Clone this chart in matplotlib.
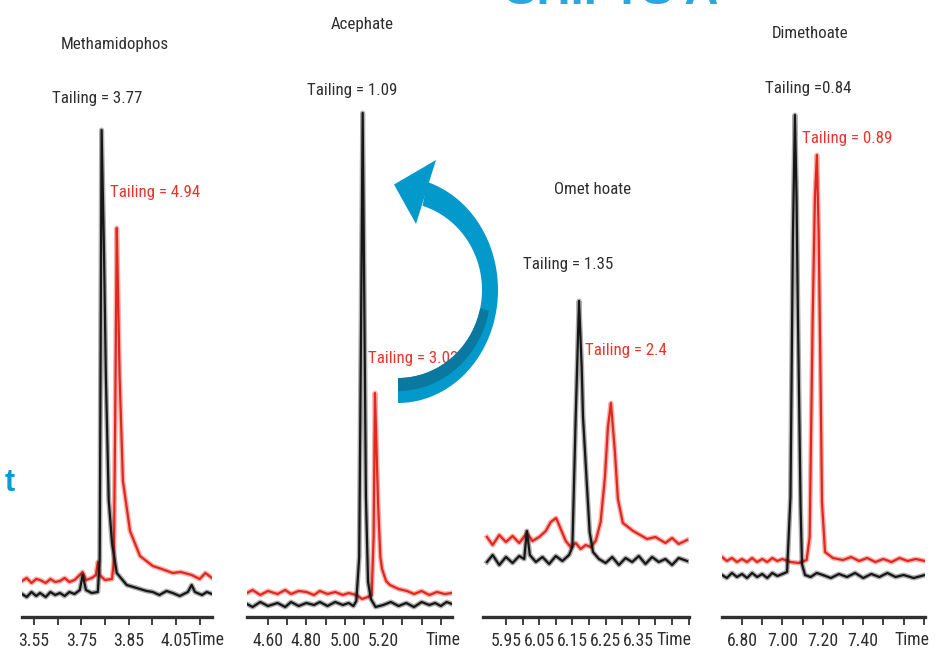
import matplotlib
matplotlib.use('Agg')
import matplotlib.pyplot as plt
import matplotlib.font_manager as fm
from matplotlib.patches import Polygon
import numpy as np

# Узкий шрифт, если есть; иначе обычный, но мельче
_names = {f.name for f in fm.fontManager.ttflist}
_dejavu_cond = any(f.name == 'DejaVu Sans' and 'condensed' in str(f.stretch)
                   for f in fm.fontManager.ttflist)
if 'Liberation Sans Narrow' in _names:
    FONT, STRETCH, SCALE = 'Liberation Sans Narrow', 'normal', 1.0
elif 'Roboto Condensed' in _names:
    FONT, STRETCH, SCALE = 'Roboto Condensed', 'normal', 0.95
elif _dejavu_cond:
    FONT, STRETCH, SCALE = 'DejaVu Sans', 'condensed', 0.8
else:
    FONT, STRETCH, SCALE = 'Liberation Sans', 'normal', 0.82
plt.rcParams['font.family'] = [FONT, 'DejaVu Sans']
plt.rcParams['font.stretch'] = STRETCH

BLACK = '#161616'
RED = '#e4271d'
TEXT_BLACK = '#2e2e2e'
TEXT_RED = '#e8352c'
BLUE = '#0399cb'
BLUE_DARK = '#0a789f'

# Methamidophos
t1_black = [3.625, 3.635, 3.645, 3.655, 3.663, 3.675, 3.685, 3.695, 3.705, 3.715, 3.725, 3.736,
            3.747, 3.753, 3.760, 3.772, 3.785, 3.789, 3.793, 3.798, 3.802, 3.808, 3.815, 3.825,
            3.846, 3.860, 3.874, 3.888, 3.901, 3.915, 3.930, 3.943, 3.958, 3.975, 3.983, 3.990,
            4.005, 4.015, 4.026]
i1_black = [23, 20, 25, 21, 24, 20, 25, 22, 24, 21, 25, 23,
            27, 42, 27, 24, 25, 57, 487, 367, 241, 117, 74, 44,
            32, 30, 28, 26, 25, 22, 26, 24, 21, 25, 32, 25,
            22, 25, 23]
t1_red = [3.625, 3.635, 3.645, 3.655, 3.663, 3.675, 3.685, 3.695, 3.705, 3.715, 3.725, 3.736,
          3.753, 3.760, 3.772, 3.781, 3.785, 3.789, 3.800, 3.815, 3.819, 3.822, 3.825, 3.828,
          3.831, 3.838, 3.853, 3.874, 3.901, 3.920, 3.943, 3.960, 3.983, 4.000, 4.012, 4.026]
i1_red = [36, 39, 34, 38, 37, 34, 38, 35, 36, 39, 35, 37,
          45, 37, 39, 42, 55, 42, 37, 38, 57, 217, 389, 317,
          241, 136, 86, 61, 51, 48, 44, 45, 42, 38, 44, 39]

# Acephate
t2_black = [4.491, 4.52, 4.56, 4.60, 4.65, 4.69, 4.72, 4.76, 4.80, 4.84, 4.87, 4.91, 4.95, 4.99,
            5.02, 5.045, 5.06, 5.075, 5.085, 5.093, 5.100, 5.110, 5.121, 5.136, 5.16, 5.20,
            5.24, 5.28, 5.32, 5.36, 5.40, 5.44, 5.47, 5.50, 5.53, 5.558]
i2_black = [13, 10, 15, 11, 14, 10, 15, 11, 14, 12, 15, 11, 15, 12,
            14, 11, 16, 60, 300, 504, 350, 120, 35, 18, 10, 12,
            15, 11, 14, 10, 15, 12, 14, 11, 15, 13]
t2_red = [4.491, 4.52, 4.56, 4.60, 4.65, 4.69, 4.72, 4.76, 4.80, 4.84, 4.87, 4.91, 4.95, 4.99,
          5.02, 5.06, 5.09, 5.12, 5.140, 5.150, 5.157, 5.165, 5.173, 5.185, 5.194, 5.215, 5.235,
          5.28, 5.324, 5.36, 5.40, 5.44, 5.48, 5.52, 5.558]
i2_red = [24, 27, 22, 26, 23, 27, 23, 26, 25, 22, 26, 23, 25, 22,
          24, 22, 18, 20, 22, 80, 224, 170, 115, 60, 48, 36, 32,
          28, 26, 23, 26, 22, 25, 23, 24]

# Omethoate
t3_black = [5.893, 5.91, 5.93, 5.95, 5.97, 5.99, 6.005, 6.013, 6.022, 6.04, 6.06, 6.08, 6.10, 6.12,
            6.14, 6.150, 6.160, 6.170, 6.178, 6.182, 6.193, 6.202, 6.212, 6.23, 6.25, 6.27, 6.29,
            6.31, 6.33, 6.35, 6.37, 6.39, 6.41, 6.43, 6.45, 6.47, 6.495]
i3_black = [55, 62, 52, 60, 54, 61, 58, 86, 62, 55, 60, 53, 61, 56,
            62, 70, 200, 316, 250, 200, 136, 85, 65, 58, 54, 60, 52,
            59, 55, 61, 53, 60, 55, 58, 52, 59, 56]
t3_red = [5.893, 5.91, 5.93, 5.95, 5.97, 5.99, 6.013, 6.03, 6.05, 6.07, 6.085, 6.101, 6.115, 6.13,
          6.145, 6.16, 6.175, 6.19, 6.205, 6.22, 6.235, 6.248, 6.257, 6.266, 6.278, 6.287, 6.302,
          6.333, 6.375, 6.40, 6.43, 6.45, 6.47, 6.495]
i3_red = [80, 72, 82, 75, 81, 74, 84, 76, 80, 86, 95, 99, 88, 76,
          70, 74, 68, 72, 70, 76, 95, 140, 190, 214, 165, 118, 94,
          86, 78, 80, 74, 79, 73, 77]

# Dimethoate
t4_black = [6.701, 6.725, 6.75, 6.775, 6.80, 6.825, 6.85, 6.875, 6.90, 6.925, 6.95, 6.975, 7.00,
            7.023, 7.040, 7.052, 7.062, 7.070, 7.077, 7.090, 7.097, 7.112, 7.14, 7.17, 7.20, 7.24,
            7.28, 7.32, 7.36, 7.40, 7.44, 7.48, 7.52, 7.56, 7.60, 7.65, 7.706]
i4_black = [42, 39, 44, 40, 43, 39, 44, 40, 43, 39, 44, 41, 43,
            45, 120, 380, 502, 420, 300, 110, 53, 42, 40, 44, 42, 39,
            43, 40, 44, 39, 43, 40, 44, 40, 42, 39, 42]
t4_red = [6.701, 6.725, 6.75, 6.775, 6.80, 6.825, 6.85, 6.875, 6.90, 6.925, 6.95, 6.975, 7.00,
          7.04, 7.08, 7.12, 7.135, 7.150, 7.161, 7.171, 7.180, 7.190, 7.196, 7.211, 7.25, 7.30,
          7.34, 7.38, 7.42, 7.46, 7.50, 7.54, 7.58, 7.62, 7.66, 7.706]
i4_red = [60, 56, 59, 55, 58, 55, 59, 55, 58, 55, 59, 56, 58,
          55, 54, 57, 80, 300, 420, 462, 380, 220, 115, 65, 59, 57,
          60, 56, 59, 55, 58, 55, 59, 56, 58, 56]

# Ticks and their printed labels
ticks_1 = [3.65, 3.70, 3.75, 3.80, 3.85, 3.90, 3.95, 4.00]
labels_1 = ['3.55', '', '3.75', '', '3.85', '', '4.05', '']
ticks_2 = [4.6, 4.7, 4.8, 4.9, 5.0, 5.1, 5.2, 5.3, 5.4, 5.5]
labels_2 = ['4.60', '', '4.80', '', '5.00', '', '5.20', '', '', '']
ticks_3 = [5.95, 6.00, 6.05, 6.10, 6.15, 6.20, 6.25, 6.30, 6.35, 6.40, 6.45, 6.50]
labels_3 = ['5.95', '', '6.05', '', '6.15', '', '6.25', '', '6.35', '', '', '']
ticks_4 = [6.8, 6.9, 7.0, 7.1, 7.2, 7.3, 7.4, 7.5, 7.6, 7.7]
labels_4 = ['6.80', '', '7.00', '', '7.20', '', '7.40', '', '', '']

titles = ['Methamidophos', 'Acephate', 'Omet hoate', 'Dimethoate']
tail_black = ['Tailing = 3.77', 'Tailing = 1.09', 'Tailing = 1.35', 'Tailing =0.84']
tail_red = ['Tailing = 4.94', 'Tailing = 3.02', 'Tailing = 2.4', 'Tailing = 0.89']

W, H = 936, 655
AXIS_Y = 617

panels = [
    dict(box=(22, 212), xlim=(3.625, 4.026), t_b=t1_black, i_b=i1_black, t_r=t1_red, i_r=i1_red,
         ticks=ticks_1, labels=labels_1, title_xy=(3.821, 573), black_xy=(3.783, 519),
         red_xy=(3.810, 425), time_x=4.015),
    dict(box=(247, 452), xlim=(4.491, 5.558), t_b=t2_black, i_b=i2_black, t_r=t2_red, i_r=i2_red,
         ticks=ticks_2, labels=labels_2, title_xy=(5.089, 592), black_xy=(5.0375, 527),
         red_xy=(5.121, 259), time_x=5.511),
    dict(box=(483, 689), xlim=(5.881, 6.501), t_b=t3_black, i_b=i3_black, t_r=t3_red, i_r=i3_red,
         ticks=ticks_3, labels=labels_3, title_xy=(6.212, 427), black_xy=(6.137, 352),
         red_xy=(6.188, 266), time_x=6.455),
    dict(box=(722, 925), xlim=(6.701, 7.706), t_b=t4_black, i_b=i4_black, t_r=t4_red, i_r=i4_red,
         ticks=ticks_4, labels=labels_4, title_xy=(7.137, 584), black_xy=(7.127, 529),
         red_xy=(7.097, 479), time_x=7.642),
]

fig = plt.figure(figsize=(W / 100, H / 100), dpi=100)

for k, p in enumerate(panels):
    x0, x1 = p['box']
    ax = fig.add_axes([x0 / W, (H - AXIS_Y) / H, (x1 - x0) / W, AXIS_Y / H])
    # мягкий ореол имитирует шумную полосу базовой линии
    ax.plot(p['t_r'], p['i_r'], color=RED, lw=3.6, alpha=0.35, solid_joinstyle='round')
    ax.plot(p['t_r'], p['i_r'], color=RED, lw=1.6, solid_joinstyle='round')
    ax.plot(p['t_b'], p['i_b'], color=BLACK, lw=3.6, alpha=0.35, solid_joinstyle='round')
    ax.plot(p['t_b'], p['i_b'], color=BLACK, lw=1.6, solid_joinstyle='round')
    ax.set_xlim(*p['xlim'])
    ax.set_ylim(0, AXIS_Y)
    for s in ['left', 'right', 'top']:
        ax.spines[s].set_visible(False)
    ax.spines['bottom'].set_linewidth(2.4)
    ax.spines['bottom'].set_color('#303030')
    ax.set_yticks([])
    ax.set_xticks(p['ticks'])
    ax.set_xticklabels(p['labels'])
    ax.tick_params(axis='x', direction='out', length=6, width=1.3, color='#303030',
                   pad=5, labelsize=13.5 * SCALE, labelcolor=TEXT_BLACK)
    ax.patch.set_alpha(0)

    fs = 12.8 * SCALE
    ax.text(*p['title_xy'], titles[k], ha='center', va='center', fontsize=fs, color=TEXT_BLACK)
    ax.text(*p['black_xy'], tail_black[k], ha='center', va='center', fontsize=fs, color=TEXT_BLACK)
    ax.text(*p['red_xy'], tail_red[k], ha='left', va='center', fontsize=fs, color=TEXT_RED)
    ax.text(p['time_x'], -23 / AXIS_Y, 'Time', transform=ax.get_xaxis_transform(),
            ha='center', va='center', fontsize=13.5 * SCALE, color=TEXT_BLACK)

# Слой в пикселях для украшений слайда
ov = fig.add_axes([0, 0, 1, 1], zorder=10)
ov.set_xlim(0, W)
ov.set_ylim(H, 0)
ov.axis('off')
ov.patch.set_alpha(0)

# Изогнутая стрелка
cx, cy = 398, 290
th = np.radians(np.linspace(-90, 73, 80))
outer = np.column_stack([cx + 100 * np.cos(th), cy - 113 * np.sin(th)])
inner = np.column_stack([cx + 84 * np.cos(th), cy - 88 * np.sin(th)])
ov.add_patch(Polygon(np.vstack([outer, inner[::-1]]), closed=True, color=BLUE, lw=0))
th_d = np.radians(np.linspace(-90, -12, 40))
mid = np.column_stack([cx + 93 * np.cos(th_d), cy - 101 * np.sin(th_d)])
inn = np.column_stack([cx + 84 * np.cos(th_d), cy - 88 * np.sin(th_d)])
ov.add_patch(Polygon(np.vstack([mid, inn[::-1]]), closed=True, color=BLUE_DARK, lw=0))
head = [(436.0, 160.0), (394.0, 184.5), (416.0, 224.0)]
ov.add_patch(Polygon(head, closed=True, color=BLUE, lw=0))

ov.text(10, 483, 't', fontsize=22, fontweight='bold', color='#0b9ad3',
        ha='center', va='center', family=['Liberation Sans', 'DejaVu Sans'], stretch='normal')
ov.text(505, 4, 'SHIFTS A', fontsize=34, fontweight='bold', color='#27a9df',
        ha='left', va='baseline', family=['Liberation Sans', 'DejaVu Sans'], stretch='normal')

fig.savefig('out.png', dpi=100)
